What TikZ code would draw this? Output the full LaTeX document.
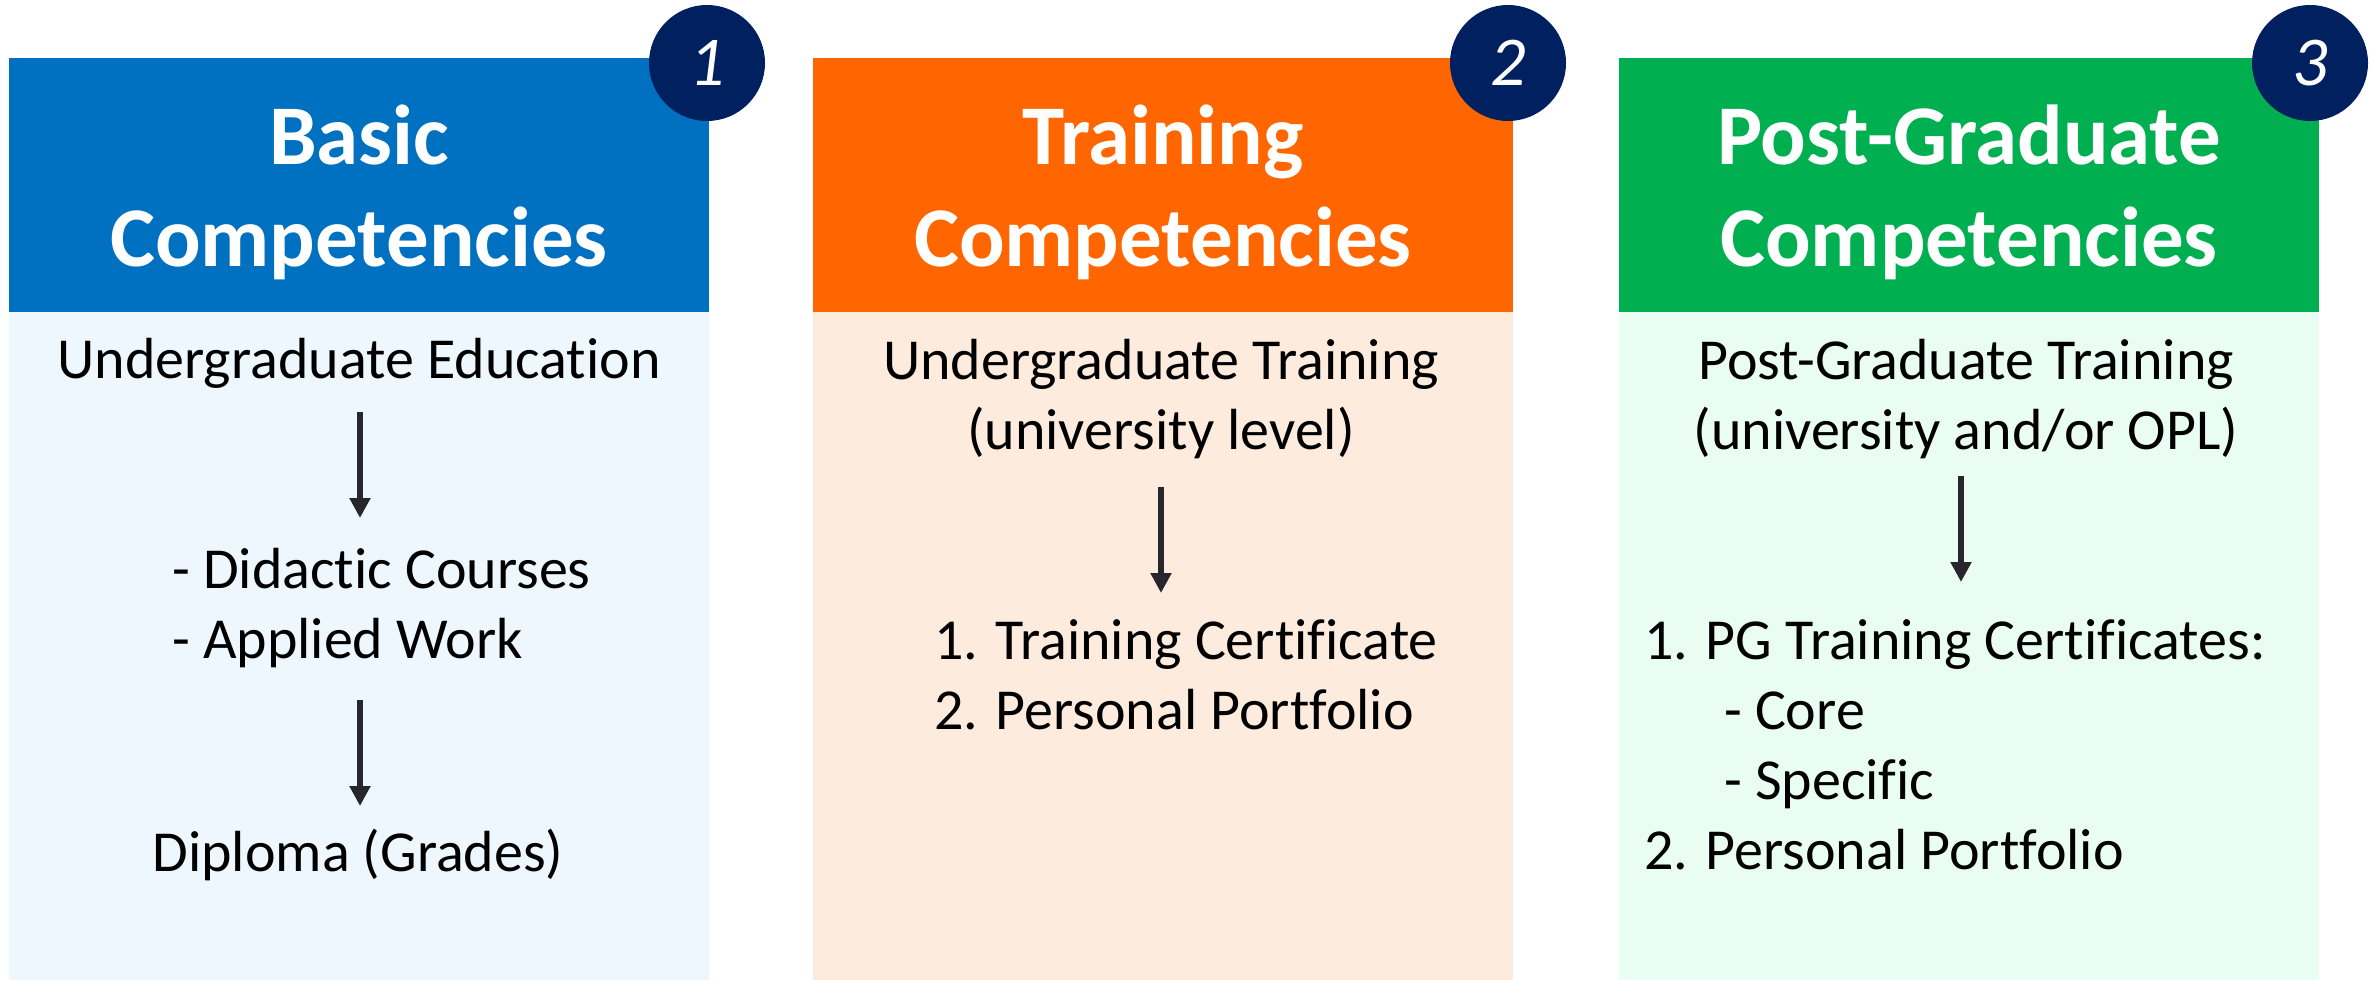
\documentclass[tikz,border=0pt]{standalone}
\usepackage{fontspec}
\setmainfont{Carlito}[Ligatures=NoCommon]
\usetikzlibrary{arrows.meta}
\definecolor{hblue}{HTML}{0070C0}
\definecolor{lblue}{HTML}{EEF6FE}
\definecolor{horange}{HTML}{FF6600}
\definecolor{lorange}{HTML}{FDEBDE}
\definecolor{hgreen}{HTML}{00B050}
\definecolor{lgreen}{HTML}{EAFDF3}
\definecolor{navy}{HTML}{002060}
\definecolor{arrowc}{HTML}{26262C}
\begin{document}
\begin{tikzpicture}[x=1pt,y=-1pt,
  panelhead/.style={anchor=north west, minimum width=700pt, minimum height=254pt, inner sep=0, outer sep=0},
  panelbody/.style={anchor=north west, minimum width=700pt, minimum height=668pt, inner sep=0, outer sep=0},
  header/.style={font=\fontsize{85}{102}\selectfont\bfseries, text=white, align=center, anchor=base, inner sep=0},
  body/.style={font=\fontsize{58}{70}\selectfont, anchor=base, inner sep=0, align=center},
  bodyleft/.style={font=\fontsize{58}{70}\selectfont, anchor=base west, inner sep=0, align=left},
  flow/.style={draw=arrowc, line width=5.3pt, -{Triangle[width=20pt,length=20pt]}},
  badge/.style={circle, fill=navy, minimum size=116pt, inner sep=0, text=white, font=\fontsize{70}{70}\selectfont\itshape}
]
\useasboundingbox (0,0) rectangle (2371,980);
\fill[white] (0,0) rectangle (2371,980);

% panels
\node[panelbody, fill=lblue] (b1) at (9,312) {};
\node[panelhead, fill=hblue] (h1) at (9,58) {};
\node[panelbody, fill=lorange] (b2) at (813,312) {};
\node[panelhead, fill=horange] (h2) at (813,58) {};
\node[panelbody, fill=lgreen] (b3) at (1619,312) {};
\node[panelhead, fill=hgreen] (h3) at (1619,58) {};

% headers (base anchor = baseline of last line)
\node[header] (t1) at (359,266) {Basic\\Competencies};
\node[header] (t2) at (1163,266) {Training\\Competencies};
\node[header] (t3) at (1969,266) {Post-Graduate\\Competencies};

% badges
\node[badge] (n1) at (707,63) {1};
\node[badge] (n2) at (1508,63) {2};
\node[badge] (n3) at (2310,63) {3};

% panel 1
\node[body] (p1a) at (359,378) {Undergraduate Education};
\node[bodyleft] (p1b) at (172,658) {- Didactic Courses\\- Applied Work};
\node[body] (p1c) at (358,871) {Diploma (Grades)};
\coordinate (a1s) at (360,412);
\coordinate (a1e) at (360,518);
\coordinate (a2s) at (360,700);
\coordinate (a2e) at (360,806);
\draw[flow] (a1s) -- (a1e);
\draw[flow] (a2s) -- (a2e);

% panel 2
\node[body] (p2a) at (1161,449) {Undergraduate Training\\(university level)};
\node[bodyleft] (p2b) at (934,729) {1. Training Certificate\\2. Personal Portfolio};
\coordinate (a3s) at (1161,487);
\coordinate (a3e) at (1161,593);
\draw[flow] (a3s) -- (a3e);

% panel 3
\node[body] (p3a) at (1966,449) {Post-Graduate Training\\(university and/or OPL)};
\node[bodyleft] (p3b) at (1644,869) {1. PG Training Certificates:\\\hspace*{80pt}- Core\\\hspace*{80pt}- Specific\\2. Personal Portfolio};
\coordinate (a4s) at (1961,476);
\coordinate (a4e) at (1961,582);
\draw[flow] (a4s) -- (a4e);
\end{tikzpicture}
\end{document}
